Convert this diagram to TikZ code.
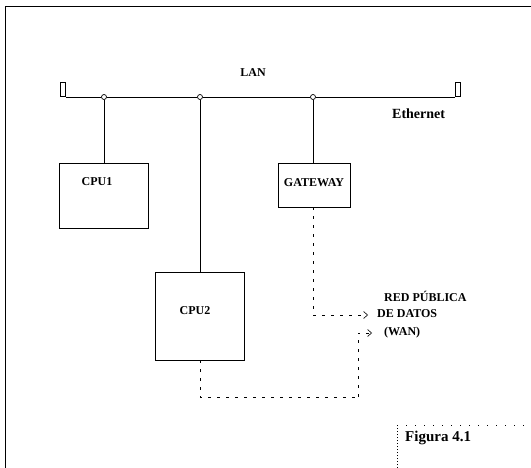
\documentclass[tikz,border=0pt]{standalone}
\usepackage{fontspec}
\setmainfont{Liberation Serif}
\usetikzlibrary{arrows.meta}
\begin{document}
\begin{tikzpicture}[x=1pt,y=-1pt,
  lbl/.style={font=\bfseries\fontsize{12}{14}\selectfont,inner sep=0pt},
  boxn/.style={draw,line width=0.5pt,inner sep=0pt},
  jn/.style={circle,draw,line width=0.7pt,fill=white,inner sep=0pt,minimum size=5pt},
  term/.style={draw,line width=0.9pt,inner sep=0pt,minimum width=5pt,minimum height=14pt},
  busline/.style={line width=0.6pt},
  wan/.style={line width=0.6pt,dash pattern=on 3pt off 6pt},
  tip/.style={-{Straight Barb[length=4pt,width=7pt]}}
]
\useasboundingbox (0,0) rectangle (531,468);
% frame
\coordinate (fbl) at (5,468);
\coordinate (ftl) at (5,7);
\coordinate (ftr) at (531,7);
\draw[line width=1pt] (fbl) -- (ftl) -- (ftr);
% LAN bus
\node[term,anchor=south] (tl) at (63,97) {};
\node[term,anchor=south] (tr) at (458,97) {};
\node[jn] (j1) at (104,97) {};
\node[jn] (j2) at (200,97) {};
\node[jn] (j3) at (313,97) {};
\draw[busline] (tl.south east) -- (j1) -- (j2) -- (j3) -- (tr.south west);
\node[lbl] (lan) at (253,73) {LAN};
\node[lbl,font=\bfseries\fontsize{14}{16}\selectfont,anchor=west] (eth) at (392,114) {Ethernet};
% boxes
\node[boxn,minimum width=89pt,minimum height=65pt] (cpu1) at (103.5,195.5) {};
\node[lbl] (cpu1t) at (97,182) {CPU1};
\node[boxn,minimum width=72pt,minimum height=44pt] (gw) at (314,185) {};
\node[lbl] (gwt) at (314,183) {GATEWAY};
\node[boxn,minimum width=89pt,minimum height=88pt] (cpu2) at (200,316) {};
\node[lbl] (cpu2t) at (195,311) {CPU2};
% drops
\draw[busline] (j1) -- (cpu1.north -| j1);
\draw[busline] (j2) -- (cpu2.north -| j2);
\draw[busline] (j3) -- (gw.north -| j3);
% WAN text
\node[lbl,anchor=west] (red) at (384,296) {RED PÚBLICA};
\node[lbl,anchor=west] (dat) at (377,314) {DE DATOS};
\node[lbl,anchor=west] (wanl) at (384,333) {(WAN)};
% WAN connectors
\coordinate (a1) at (368,315);
\draw[wan,tip] (gw.south -| j3) |- (a1);
\coordinate (b1) at (358,397);
\coordinate (a2) at (372,333);
\draw[wan] (cpu2.south -| j2) |- (b1);
\draw[wan,tip] (b1) |- (a2);
% Figura box
\coordinate (gb) at (397,468);
\coordinate (gt) at (397,425);
\coordinate (gr) at (531,425);
\draw[line width=0.6pt,dash pattern=on 1.5pt off 1.5pt] (gb) -- (gt);
\draw[line width=0.5pt,dash pattern=on 1pt off 8pt] (gt) -- (gr);
\node[font=\bfseries\fontsize{15}{17}\selectfont,anchor=west,inner sep=0pt] (fig) at (405,438) {Figura 4.1};
\end{tikzpicture}
\end{document}
